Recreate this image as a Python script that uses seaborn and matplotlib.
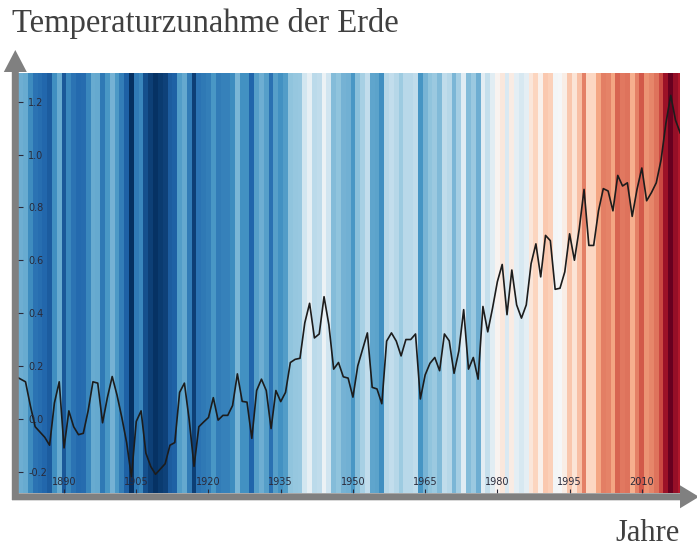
import matplotlib
matplotlib.use("Agg")
import matplotlib.pyplot as plt
from matplotlib.patches import FancyArrow
import seaborn as sns
import numpy as np
import pandas as pd

# Jahresmittel der Temperaturabweichung (°C)
years = np.arange(1880, 2019)
anomaly = [
    0.16, 0.15, 0.14, 0.05, -0.03, -0.05, -0.07, -0.10, 0.06, 0.14,
    -0.11, 0.03, -0.03, -0.06, -0.055, 0.03, 0.14, 0.135, -0.015, 0.08,
    0.16, 0.09, 0.005, -0.09, -0.22, -0.01, 0.03, -0.13, -0.18, -0.21,
    -0.19, -0.17, -0.10, -0.09, 0.10, 0.135, -0.005, -0.18, -0.03, -0.012,
    0.005, 0.08, -0.005, 0.013, 0.013, 0.05, 0.17, 0.066, 0.063, -0.074,
    0.107, 0.15, 0.107, -0.037, 0.107, 0.065, 0.10, 0.213, 0.225, 0.229,
    0.363, 0.437, 0.306, 0.321, 0.462, 0.356, 0.188, 0.213, 0.159, 0.154,
    0.082, 0.20, 0.263, 0.325, 0.119, 0.113, 0.057, 0.294, 0.325, 0.294,
    0.238, 0.30, 0.30, 0.321, 0.075, 0.166, 0.21, 0.232, 0.182, 0.321,
    0.295, 0.172, 0.257, 0.413, 0.188, 0.232, 0.15, 0.425, 0.329, 0.419,
    0.519, 0.584, 0.394, 0.563, 0.431, 0.381, 0.431, 0.587, 0.662, 0.537,
    0.694, 0.674, 0.49, 0.494, 0.556, 0.70, 0.60, 0.718, 0.868, 0.656,
    0.656, 0.787, 0.871, 0.862, 0.787, 0.921, 0.881, 0.893, 0.766, 0.868,
    0.949, 0.825, 0.856, 0.893, 0.98, 1.118, 1.224, 1.13, 1.08,
]
xticks = [1890, 1905, 1920, 1935, 1950, 1965, 1980, 1995, 2010]
yticks = [-0.2, 0.0, 0.2, 0.4, 0.6, 0.8, 1.0, 1.2]

title = "Temperaturzunahme der Erde"
xlabel = "Jahre"

df = pd.DataFrame({"Jahr": years, "Anomalie": anomaly})

sns.set_style("white")
plt.rcParams["font.family"] = ["DejaVu Sans"]

fig = plt.figure(figsize=(6.97, 5.5), dpi=100)
ax = fig.add_axes([0.0228, 0.104, 0.9533, 0.764])
ax.set_axisbelow(False)

ylo, yhi = -0.28, 1.31
norm = plt.Normalize(df["Anomalie"].min(), df["Anomalie"].max())
colors = plt.cm.RdBu_r(norm(df["Anomalie"]))
ax.bar(df["Jahr"], yhi - ylo, bottom=ylo, width=1.0, color=colors, linewidth=0)

sns.lineplot(data=df, x="Jahr", y="Anomalie", ax=ax, color="#1c1c1c", linewidth=1.2)

ax.set_xlim(1880, 2018)
ax.set_ylim(ylo, yhi)
ax.set_xlabel("")
ax.set_ylabel("")
for s in ax.spines.values():
    s.set_visible(False)

ax.set_xticks(xticks)
ax.set_xticklabels([str(t) for t in xticks])
ax.set_yticks(yticks)
ax.set_yticklabels([f"{t:.1f}" for t in yticks])
ax.tick_params(axis="y", direction="in", length=5, width=0.8, color="#2a2a3a",
               labelsize=7, labelcolor="#2a2a3a", pad=-9, left=True)
ax.tick_params(axis="x", direction="in", length=3, width=0.8, color="#2a2a3a",
               labelsize=7, labelcolor="#2a2a3a", pad=-4, bottom=True)
for lab in ax.get_yticklabels():
    lab.set_ha("left")
for lab in ax.get_xticklabels():
    lab.set_va("bottom")

# graue Achsenpfeile
arrow_kw = dict(transform=fig.dpi_scale_trans, color="#808080", linewidth=0,
                length_includes_head=True)
fig.add_artist(FancyArrow(0.153, 0.50, 0.0, 4.5,
                          width=0.07, head_width=0.23, head_length=0.22, **arrow_kw))
fig.add_artist(FancyArrow(0.12, 0.532, 6.87, 0.0,
                          width=0.07, head_width=0.23, head_length=0.19, **arrow_kw))

fig.text(12 / 697, 1 - 32 / 550, title, family=["Liberation Serif", "DejaVu Serif"],
         fontsize=23.5, color="#404040", ha="left", va="baseline")
fig.text(680 / 697, 1 - 541 / 550, xlabel, family=["Liberation Serif", "DejaVu Serif"],
         fontsize=22, color="#404040", ha="right", va="baseline")

fig.savefig("out.png", dpi=100)
